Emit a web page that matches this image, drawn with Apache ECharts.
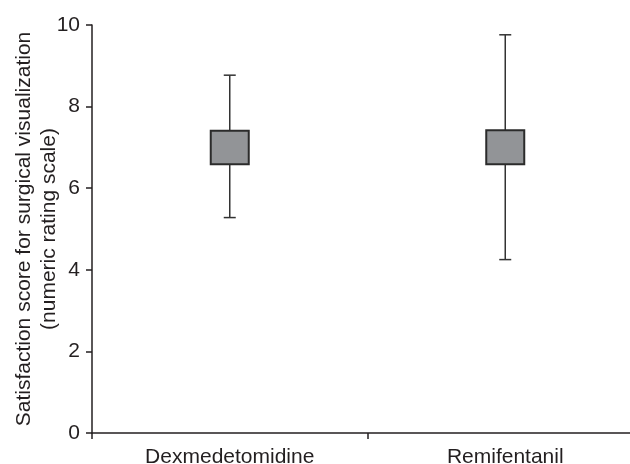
<!DOCTYPE html>
<html>
<head>
<meta charset="utf-8">
<script src="https://cdn.jsdelivr.net/npm/echarts@6/dist/echarts.min.js"></script>
<style>
html,body{margin:0;padding:0;background:#fff;}
#chart{width:630px;height:464px;}
</style>
</head>
<body>
<div id="chart"></div>
<script>
const categories = ['Dexmedetomidine', 'Remifentanil'];
const whiskerLow = [5.28, 4.25];
const boxLow = [6.59, 6.59];
const boxHigh = [7.41, 7.42];
const whiskerHigh = [8.77, 9.76];
const yTicks = [0, 2, 4, 6, 8, 10];

const ink = '#231f20';
const font = 'Liberation Sans, Arial, sans-serif';
const data = categories.map((c, i) => [i, whiskerLow[i], boxLow[i], boxHigh[i], whiskerHigh[i]]);

const chart = echarts.init(document.getElementById('chart'), null, {renderer: 'canvas'});
chart.setOption({
  animation: false,
  backgroundColor: '#ffffff',
  grid: {left: 92, right: -13, top: 25, bottom: 31, containLabel: false, outerBoundsMode: 'none'},
  xAxis: {
    type: 'category',
    data: categories,
    boundaryGap: true,
    axisLine: {show: true, lineStyle: {color: ink, width: 1.5}},
    axisTick: {show: true, inside: false, length: 6, alignWithLabel: false, lineStyle: {color: ink, width: 1.5}},
    axisLabel: {color: ink, fontFamily: font, fontSize: 21, margin: 14},
    splitLine: {show: false}
  },
  yAxis: {
    type: 'value',
    min: yTicks[0],
    max: yTicks[yTicks.length - 1],
    interval: 2,
    name: 'Satisfaction score for surgical visualization\n(numeric rating scale)',
    nameLocation: 'middle',
    nameGap: 30,
    nameMoveOverlap: false,
    nameRotate: 90,
    nameTextStyle: {color: ink, fontFamily: font, fontSize: 21, lineHeight: 25},
    axisLine: {show: true, onZero: false, lineStyle: {color: ink, width: 1.5}},
    axisTick: {show: true, inside: false, length: 6, lineStyle: {color: ink, width: 1.5}},
    axisLabel: {color: ink, fontFamily: font, fontSize: 21, margin: 12},
    splitLine: {show: false}
  },
  series: [{
    type: 'custom',
    data: data,
    encode: {x: 0, y: [1, 2, 3, 4]},
    renderItem: function (params, api) {
      const x = api.value(0);
      const pLo = api.coord([x, api.value(1)]);
      const pQ1 = api.coord([x, api.value(2)]);
      const pQ3 = api.coord([x, api.value(3)]);
      const pHi = api.coord([x, api.value(4)]);
      const cx = pLo[0];
      const boxHalf = 19;
      const capHalf = 6;
      const lineStyle = {stroke: '#333333', lineWidth: 1.5, fill: null};
      return {
        type: 'group',
        children: [
          {type: 'line', shape: {x1: cx, y1: pLo[1], x2: cx, y2: pHi[1]}, style: lineStyle},
          {type: 'line', shape: {x1: cx - capHalf, y1: pLo[1], x2: cx + capHalf, y2: pLo[1]}, style: lineStyle},
          {type: 'line', shape: {x1: cx - capHalf, y1: pHi[1], x2: cx + capHalf, y2: pHi[1]}, style: lineStyle},
          {type: 'rect', shape: {x: cx - boxHalf, y: pQ3[1], width: boxHalf * 2, height: pQ1[1] - pQ3[1]},
           style: {fill: '#929497', stroke: '#2b2b2b', lineWidth: 2}}
        ]
      };
    }
  }]
});
</script>
</body>
</html>
